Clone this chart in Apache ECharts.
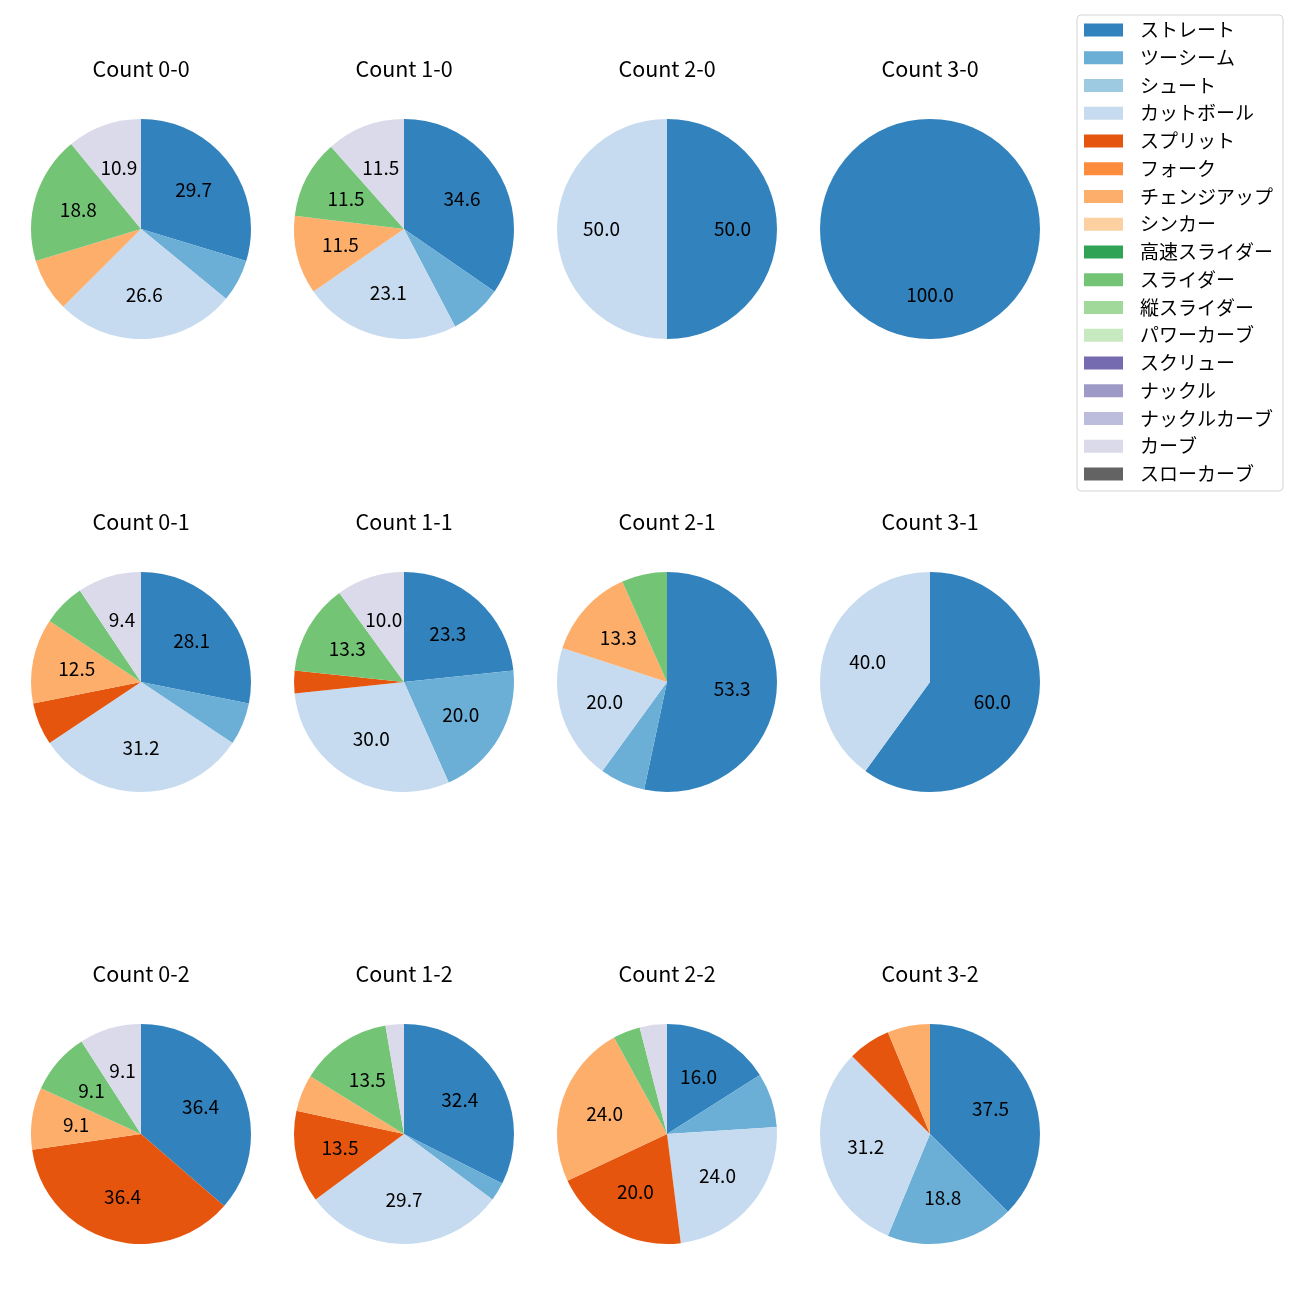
<!DOCTYPE html>
<html><head><meta charset="utf-8">
<script src="https://cdn.jsdelivr.net/npm/echarts@6/dist/echarts.min.js"></script>
<style>html,body{margin:0;padding:0;background:#fff}#c{width:1300px;height:1300px}</style>
</head><body><div id="c"></div><script>
// pitch types (legend order = slice order, clockwise from 12 o'clock)
const pitchTypes = ['ストレート','ツーシーム','シュート','カットボール','スプリット','フォーク','チェンジアップ','シンカー','高速スライダー','スライダー','縦スライダー','パワーカーブ','スクリュー','ナックル','ナックルカーブ','カーブ','スローカーブ'];
const countTitles = ['Count 0-0','Count 1-0','Count 2-0','Count 3-0','Count 0-1','Count 1-1','Count 2-1','Count 3-1','Count 0-2','Count 1-2','Count 2-2','Count 3-2'];
// pitch counts per ball-strike count, in pitchTypes order
const count00 = [19,4,0,17,0,0,5,0,0,12,0,0,0,0,0,7,0];
const count10 = [9,2,0,6,0,0,3,0,0,3,0,0,0,0,0,3,0];
const count20 = [1,0,0,1,0,0,0,0,0,0,0,0,0,0,0,0,0];
const count30 = [1,0,0,0,0,0,0,0,0,0,0,0,0,0,0,0,0];
const count01 = [9,2,0,10,2,0,4,0,0,2,0,0,0,0,0,3,0];
const count11 = [7,6,0,9,1,0,0,0,0,4,0,0,0,0,0,3,0];
const count21 = [8,1,0,3,0,0,2,0,0,1,0,0,0,0,0,0,0];
const count31 = [3,0,0,2,0,0,0,0,0,0,0,0,0,0,0,0,0];
const count02 = [4,0,0,0,4,0,1,0,0,1,0,0,0,0,0,1,0];
const count12 = [12,1,0,11,5,0,2,0,0,5,0,0,0,0,0,1,0];
const count22 = [4,2,0,6,5,0,6,0,0,1,0,0,0,0,0,1,0];
const count32 = [6,3,0,5,1,0,1,0,0,0,0,0,0,0,0,0,0];
const allCounts = [count00,count10,count20,count30,count01,count11,count21,count31,count02,count12,count22,count32];

// styling
const palette = ['#3182bd','#6baed6','#9ecae1','#c6dbef','#e6550d','#fd8d3c','#fdae6b','#fdd0a2','#31a354','#74c476','#a1d99b','#c7e9c0','#756bb1','#9e9ac8','#bcbddc','#dadaeb','#636363'];
const FONT = '"Noto Sans CJK JP", "Noto Sans", sans-serif';
const colX = [141, 404, 667, 930];
const rowY = [229, 682, 1134];
const R = 110;

function fmtPct(p) { // round half to even, like Python's %1.1f
  const x = p * 10;
  const f = Math.floor(x);
  let r;
  if (Math.abs(x - f - 0.5) < 1e-9) r = (f % 2 === 0) ? f : f + 1;
  else r = Math.round(x);
  return (r / 10).toFixed(1);
}

const series = [];
// hidden series carrying all legend entries
series.push({
  type: 'pie', radius: 0, center: [-500, -500], silent: true, animation: false,
  label: {show: false}, labelLine: {show: false},
  data: pitchTypes.map((n, i) => ({name: n, value: 1, itemStyle: {color: palette[i]}}))
});
const titles = [];
allCounts.forEach((vals, k) => {
  const cx = colX[k % 4], cy = rowY[Math.floor(k / 4)];
  const total = vals.reduce((a, b) => a + b, 0);
  const data = [];
  vals.forEach((v, i) => { if (v > 0) data.push({name: pitchTypes[i], value: v, itemStyle: {color: palette[i]}}); });
  series.push({
    type: 'pie', center: [cx, cy], radius: R, startAngle: 90, clockwise: true,
    silent: true, animation: false, emphasis: {disabled: true},
    itemStyle: {borderWidth: 0}, label: {show: false}, labelLine: {show: false},
    data: data
  });
  // label ring placing texts at ~0.6 R
  series.push({
    type: 'pie', center: [cx, cy], radius: 125, startAngle: 90, clockwise: true,
    silent: true, animation: false, emphasis: {disabled: true},
    itemStyle: {color: 'rgba(0,0,0,0)', borderWidth: 0},
    labelLine: {show: false},
    label: {
      show: true, position: 'inside', color: '#000', fontSize: 19, fontFamily: FONT,
      textBorderWidth: 0,
      formatter: (p) => { const pct = p.value / total * 100; return pct > 8 ? fmtPct(pct) : ''; }
    },
    data: data.map(d => ({name: d.name, value: d.value}))
  });
  titles.push({
    text: countTitles[k], left: cx, top: cy - 171, textAlign: 'center', padding: 0,
    textStyle: {fontSize: 21.5, fontWeight: 'normal', color: '#000', fontFamily: FONT}
  });
});

const chart = echarts.init(document.getElementById('c'), null, {renderer: 'canvas'});
chart.setOption({
  backgroundColor: '#fff',
  animation: false,
  title: titles,
  legend: {
    orient: 'vertical', left: 1077, top: 15, data: pitchTypes,
    icon: 'rect', itemWidth: 39, itemHeight: 13, itemGap: 8.75,
    padding: [5.5, 10, 7.5, 7], selectedMode: false,
    backgroundColor: '#fff', borderColor: '#d5d5d5', borderWidth: 1, borderRadius: 4,
    textStyle: {fontSize: 19, lineHeight: 19, color: '#000', fontFamily: FONT, padding: [0, 0, 0, 12]}
  },
  series: series
});
</script></body></html>
